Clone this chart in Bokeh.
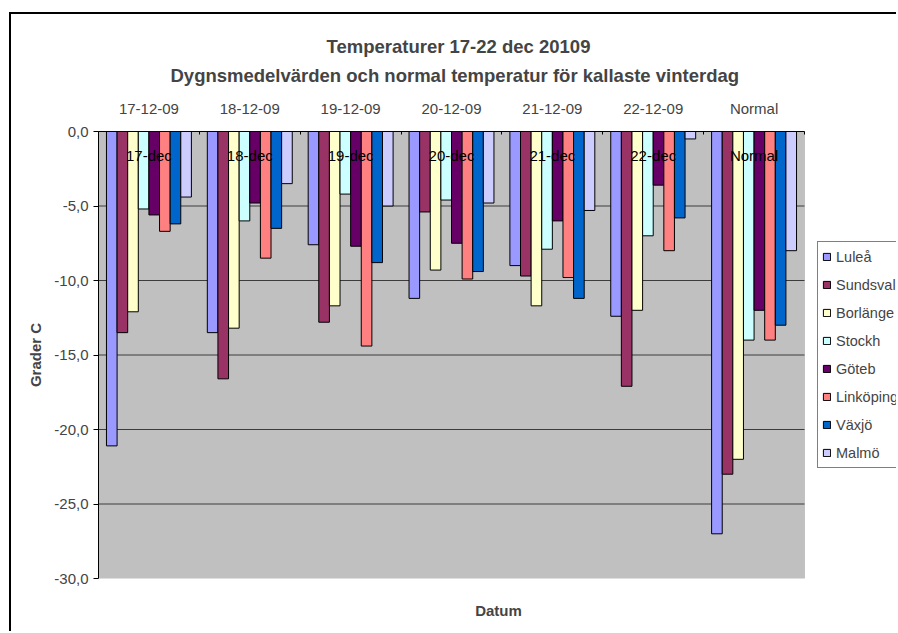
from bokeh.plotting import figure
from bokeh.models import (Range1d, ColumnDataSource, Legend, LegendItem, FixedTicker,
                          CustomJSTickFormatter, Title, LinearAxis, BoxAnnotation)
from bokeh.transform import dodge
from bokeh.core.properties import value
from bokeh.embed import file_html
from bokeh.resources import INLINE

# ---------------- data ----------------
dates = ["17-12-09", "18-12-09", "19-12-09", "20-12-09", "21-12-09", "22-12-09", "Normal"]
day_labels = ["17-dec", "18-dec", "19-dec", "20-dec", "21-dec", "22-dec", "Normal"]
cities = ["Luleå", "Sundsval", "Borlänge", "Stockh", "Göteb", "Linköping", "Växjö", "Malmö"]

lulea     = [-21.1, -13.5, -7.6, -11.2, -9.0, -12.4, -27.0]
sundsval  = [-13.5, -16.6, -12.8, -5.4, -9.7, -17.1, -23.0]
borlange  = [-12.1, -13.2, -11.7, -9.3, -11.7, -12.0, -22.0]
stockh    = [-5.2, -6.0, -4.2, -4.6, -7.9, -7.0, -14.0]
goteb     = [-5.6, -4.8, -7.7, -7.5, -6.0, -3.6, -12.0]
linkoping = [-6.7, -8.5, -14.4, -9.9, -9.8, -8.0, -14.0]
vaxjo     = [-6.2, -6.5, -8.8, -9.4, -11.2, -5.8, -13.0]
malmo     = [-4.4, -3.5, -5.0, -4.8, -5.3, -0.5, -8.0]

y_ticks = [0, -5, -10, -15, -20, -25, -30]

colors = ["#9999FF", "#993366", "#FFFFCC", "#CCFFFF", "#660066", "#FF8080", "#0066CC", "#CCCCFF"]

# ---------------- build ----------------
series = [lulea, sundsval, borlange, stockh, goteb, linkoping, vaxjo, malmo]
n_cat = len(dates)
cat_pos = list(range(n_cat))               # category slots 0..6
data = {"pos": cat_pos, "date": dates, "day": day_labels}
for i, s in enumerate(series):
    data[f"c{i}"] = s
src = ColumnDataSource(data)

FONT = "Liberation Sans"
BW = 1 / 9.5  # Excel: 8 bars + 150% gap width
LO, HI = -0.5, n_cat - 0.5                 # extent of the grey plot area
# frame runs on to the right window edge so the legend can sit there
X_END = LO + 800 / (706 / n_cat)

p = figure(x_range=Range1d(LO, X_END), y_range=Range1d(min(y_ticks), max(y_ticks)),
           width=887, height=619, output_backend="svg", toolbar_location=None,
           x_axis_location="above",
           min_border_left=87, min_border_right=0, min_border_top=117, min_border_bottom=55)

# outer chart frame: only its left and top edges are inside the window
p.styles = {"margin-left": "9px", "margin-top": "12px", "vertical-align": "top",
            "margin-bottom": "-24px", "margin-right": "-12px", "overflow": "hidden",
            "border-left": "2px solid #000000", "border-top": "2px solid #000000"}

p.background_fill_color = "white"
p.border_fill_color = "white"
p.outline_line_color = None
p.xgrid.grid_line_color = None
p.ygrid.grid_line_color = None

# grey plot area
p.add_layout(BoxAnnotation(left=LO, right=HI, bottom=min(y_ticks), top=max(y_ticks),
                           fill_color="#C0C0C0", fill_alpha=1, line_color="#808080",
                           line_width=1, level="underlay"))

# horizontal gridlines limited to the plot area
grid_src = ColumnDataSource({"y": y_ticks[1:-1]})
p.segment(x0=LO, x1=HI, y0="y", y1="y", source=grid_src, line_color="#3c3c3c", line_width=1)

# y axis
p.yaxis.ticker = FixedTicker(ticks=y_ticks)
p.yaxis.formatter = CustomJSTickFormatter(code="return tick.toFixed(1).replace('.', ',');")
p.yaxis.axis_label = "Grader C"
p.yaxis.axis_label_text_font = FONT
p.yaxis.axis_label_text_font_size = "15px"
p.yaxis.axis_label_text_font_style = "bold"
p.yaxis.axis_label_standoff = 7
p.yaxis.major_label_text_font = FONT
p.yaxis.major_label_text_font_size = "15px"
p.yaxis.major_label_standoff = 5
p.yaxis.major_tick_out = 5
p.yaxis.major_tick_in = 0
p.yaxis.minor_tick_line_color = None
p.yaxis.axis_line_color = "black"
p.yaxis.major_tick_line_color = "black"

# top category axis (labels at slot centres, small marks at slot boundaries)
top = p.xaxis[0]
top.ticker = FixedTicker(ticks=cat_pos, minor_ticks=[c - 0.5 for c in cat_pos] + [HI])
top.major_label_overrides = {c: d for c, d in zip(cat_pos, dates)}
top.bounds = (LO, HI)
top.major_tick_line_color = None
top.major_tick_in = 0
top.major_tick_out = 0
top.minor_tick_line_color = "black"
top.minor_tick_in = 3
top.minor_tick_out = 0
top.major_label_text_font = FONT
top.major_label_text_font_size = "15px"
top.major_label_standoff = 15
top.axis_line_color = "black"

# bottom axis carrying only the "Datum" title
bax = LinearAxis(ticker=FixedTicker(ticks=[]), bounds=(LO, HI), axis_line_color=None,
                 major_tick_line_color=None, minor_tick_line_color=None,
                 major_tick_out=0, minor_tick_out=0, major_tick_in=0, minor_tick_in=0,
                 major_label_standoff=0, axis_label="Datum", axis_label_standoff=23,
                 axis_label_text_font=FONT, axis_label_text_font_size="15px",
                 axis_label_text_font_style="bold")
p.add_layout(bax, "below")

# two-line chart title
p.add_layout(Title(text="Dygnsmedelvärden och normal temperatur för kallaste vinterdag",
                   align="left", offset=72, vertical_align="top", standoff=17,
                   text_font=FONT, text_font_size="18.5px", text_font_style="bold"), "above")
p.add_layout(Title(text="Temperaturer 17-22 dec 20109",
                   align="left", offset=228, vertical_align="bottom", standoff=0,
                   text_font=FONT, text_font_size="18.5px", text_font_style="bold"), "above")

# bars
renderers = []
for i, (name, col) in enumerate(zip(cities, colors)):
    r = p.vbar(x=dodge("pos", (i - 3.5) * BW), top=f"c{i}", bottom=0,
               width=BW, fill_color=col, line_color="black", line_width=1, source=src)
    renderers.append(r)

# category labels inside the plot
p.text(x="pos", y=-1.6, text="day", source=src, text_align="center",
       text_baseline="middle", text_font=value(FONT), text_font_size="15px",
       text_color="black")

legend = Legend(items=[LegendItem(label=n, renderers=[r]) for n, r in zip(cities, renderers)],
                location=(719, 110), border_line_color="black", border_line_width=1,
                background_fill_color="white", background_fill_alpha=1,
                padding=4, spacing=7, label_height=21, glyph_height=9, glyph_width=9,
                label_standoff=5, label_text_font=FONT, label_text_font_size="14.5px",
                margin=0)
p.add_layout(legend, "center")

open("out.html", "w").write(file_html(p, INLINE))
